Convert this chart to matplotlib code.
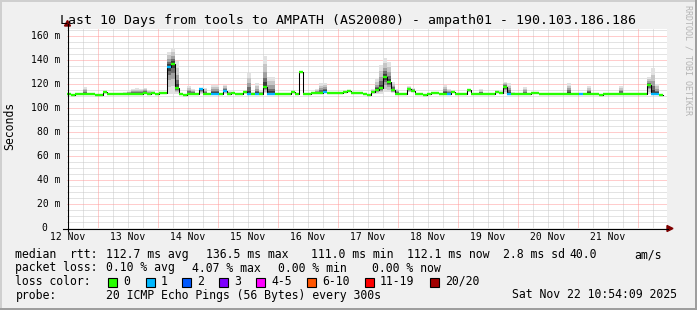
import numpy as np
import matplotlib
matplotlib.use('Agg')
import matplotlib.pyplot as plt
from matplotlib.patches import Rectangle, Polygon
from matplotlib.lines import Line2D
from matplotlib.transforms import blended_transform_factory, offset_copy

W, H = 697, 310
MONO = 'DejaVu Sans Mono'

# time axis: hours since 12 Nov 00:00, one consolidated row every 96 min
t_start = 11.6
t_step = 1.6
t_span = 240.0

# median rtt per row (ms)
median_ms = [
    112, 111, 112, 112, 112, 112, 111.5, 111, 111, 113.5,
    112, 112, 111.5, 112, 112, 112, 112, 112, 112, 112.5,
    112, 112.5, 112, 112.5, 112.5, 134.5, 137, 116.5, 112, 111,
    112, 112, 112, 115.5, 112, 112, 112, 112, 112, 114.5,
    112, 112.5, 112, 112, 113, 112, 112, 112, 112, 117.5,
    112, 112, 111.5, 112, 112, 112, 113, 112, 130, 112,
    112, 112.5, 112.5, 112.5, 113.5, 112.5, 112.5, 112.5, 112.5, 113,
    114, 112.5, 112.5, 112.5, 112, 111, 113, 115, 116.5, 125.5,
    121.5, 115, 112, 112, 112, 115.5, 114, 111.5, 111.5, 111,
    112, 112.5, 112.5, 112, 112, 112, 113.5, 112, 112, 112,
    115, 112, 112, 112, 112, 112, 112, 113.5, 112.5, 117.5,
    112, 112, 112, 112, 112, 112, 112.5, 112.5, 112, 112,
    111.5, 112, 112, 112, 112, 112, 112, 112, 112, 112,
    112, 112, 112, 111, 111.5, 112, 112, 112, 112, 112,
    112, 112, 112, 112, 112, 119, 112, 112, 111,
]

# lost pings per row (index into loss colours)
loss = [
    0, 0, 0, 0, 0, 0, 0, 0, 0, 0,
    0, 0, 0, 0, 0, 0, 0, 0, 0, 0,
    0, 0, 0, 0, 0, 1, 0, 0, 0, 0,
    0, 0, 0, 1, 0, 0, 1, 1, 0, 1,
    0, 0, 0, 0, 0, 1, 0, 1, 0, 0,
    1, 1, 0, 0, 0, 0, 0, 0, 0, 0,
    0, 0, 0, 0, 1, 0, 0, 0, 0, 0,
    0, 0, 0, 0, 0, 0, 0, 0, 0, 0,
    0, 0, 0, 0, 0, 0, 0, 0, 0, 0,
    0, 0, 0, 0, 0, 1, 0, 0, 0, 0,
    0, 0, 0, 0, 0, 0, 0, 0, 0, 0,
    1, 0, 0, 0, 0, 0, 0, 0, 0, 0,
    0, 0, 0, 0, 0, 0, 0, 0, 1, 0,
    0, 0, 0, 0, 0, 0, 0, 0, 0, 0,
    0, 0, 0, 0, 0, 0, 1, 1, 0,
]

# smoke: slowest and fastest ping per row (ms)
smoke_hi = [
    112, 111, 112, 112, 117.5, 112, 111.5, 111, 111, 113.5,
    112, 112, 111.5, 112, 113, 114, 116, 116.5, 116, 117,
    115, 114, 112, 113.5, 112.5, 147, 150, 139, 112, 111,
    118, 116, 112, 117, 117, 112, 119, 119, 112, 119.5,
    114, 112.5, 112, 112, 113, 129, 113, 120.5, 114, 143,
    126, 126, 111.5, 112, 112, 112, 113, 112, 130, 112,
    112, 112.5, 116, 120.5, 121, 112.5, 112.5, 112.5, 112.5, 113,
    114, 112.5, 112.5, 112.5, 112, 111, 116, 124, 136, 142,
    138, 122, 116, 112, 112, 118, 117, 111.5, 111.5, 111,
    112, 112.5, 112.5, 112, 119, 116, 113.5, 112, 112, 112,
    115.5, 112, 112, 115.5, 112, 112, 112, 113.5, 114, 122,
    121, 113, 112, 112, 117.5, 112, 112.5, 112.5, 112, 112,
    111.5, 112, 112, 112, 112, 121, 112, 112, 112, 112,
    118.5, 112, 112, 111, 111.5, 112, 112, 112, 118, 112,
    112, 112, 112, 112, 112, 126, 133, 120, 111,
]
smoke_lo = [
    111.5, 110.5, 111.5, 111.5, 111.5, 111.5, 111, 110.5, 110.5, 112,
    111.5, 111.5, 111, 111.5, 111.5, 111.5, 111.5, 111.5, 111.5, 112,
    111.5, 112, 111.5, 112, 112, 112, 112, 112, 111.5, 110.5,
    111.5, 111.5, 111.5, 112, 111.5, 111.5, 111.5, 111.5, 111.5, 112,
    111.5, 112, 111.5, 111.5, 112, 111.5, 111.5, 111.5, 111.5, 112.5,
    111.5, 111.5, 111, 111.5, 111.5, 111.5, 112, 111.5, 130, 111.5,
    111.5, 112, 112, 112, 112.5, 112, 112, 112, 112, 112.5,
    113, 112, 112, 112, 111.5, 110.5, 112, 112, 112, 113,
    113, 112.5, 111.5, 111.5, 111.5, 113, 113, 111, 111, 110.5,
    111.5, 112, 112, 111.5, 111.5, 111.5, 112.5, 111.5, 111.5, 111.5,
    113, 111.5, 111.5, 111.5, 111.5, 111.5, 111.5, 112.5, 112, 112,
    111.5, 111.5, 111.5, 111.5, 111.5, 111.5, 112, 112, 111.5, 111.5,
    111, 111.5, 111.5, 111.5, 111.5, 111.5, 111.5, 111.5, 111.5, 111.5,
    111.5, 111.5, 111.5, 110.5, 111, 111.5, 111.5, 111.5, 111.5, 111.5,
    111.5, 111.5, 111.5, 111.5, 111.5, 112, 111.5, 111.5, 110.5,
]

loss_labels = ['0', '1', '2', '3', '4-5', '6-10', '11-19', '20/20']
loss_colors = ['#26ff00', '#00b8ff', '#0059ff', '#7e00ff',
               '#ff00ff', '#ff5500', '#ff0000', '#a10000']

y_ticks = [0, 20, 40, 60, 80, 100, 120, 140, 160]
y_tick_labels = ['0  ', '20 m', '40 m', '60 m', '80 m', '100 m', '120 m', '140 m', '160 m']
day_labels = ['12 Nov', '13 Nov', '14 Nov', '15 Nov', '16 Nov',
              '17 Nov', '18 Nov', '19 Nov', '20 Nov', '21 Nov']

title = 'Last 10 Days from tools to AMPATH (AS20080) - ampath01 - 190.103.186.186'
legend_rows = [
    [(16, 'median  rtt:'), (107, '112.7 ms avg'), (207, '136.5 ms max'),
     (312, '111.0 ms min'), (408, '112.1 ms now'), (504, '2.8 ms sd'),
     (570, '40.0'), (635, 'am/s')],
    [(16, 'packet loss:'), (107, '0.10 % avg'), (193, '4.07 % max'),
     (279, '0.00 % min'), (373, '0.00 % now')],
    [(16, 'loss color:')],
    [(16, 'probe:'), (107, '20 ICMP Echo Pings (56 Bytes) every 300s'),
     (513, 'Sat Nov 22 10:54:09 2025')],
]
box_x = [108, 146, 182, 219, 256, 307, 365, 430]


def fx(x):
    return x / W


def fy(y):
    return 1 - y / H


fig = plt.figure(figsize=(W / 100, H / 100), dpi=100, facecolor='#f0f0f0')
ax = fig.add_axes([fx(67), fy(228), 600 / W, 199.2 / H])
ax.set_facecolor('white')
for s in ax.spines.values():
    s.set_visible(False)
ax.set_xlim(t_start, t_start + t_span)
ax.set_ylim(0, 166)
ax.set_xticks([])
ax.set_yticks([])

# grid: minor grey first, then red major
dots = (0, (1, 1))
for v in np.arange(5, 166, 5):
    if v % 20:
        ax.axhline(v, color='#c8c8c8', lw=0.72, ls=dots, zorder=0)
for h in np.arange(18, t_start + t_span, 6):
    if h % 24:
        ax.axvline(h, color='#c8c8c8', lw=0.72, ls=dots, zorder=0)
for v in y_ticks[1:]:
    ax.axhline(v, color='#ff9a9a', lw=0.72, ls=dots, zorder=0.5)
for h in np.arange(24, t_start + t_span, 24):
    ax.axvline(h, color='#ff9a9a', lw=0.72, ls=dots, zorder=0.5)

# smoke
n = len(median_ms)
t = t_start + t_step * np.arange(n)
te = np.append(t, t[-1] + t_step)
med = np.array(median_ms, dtype=float)
hi = np.array(smoke_hi, dtype=float)
lo = np.array(smoke_lo, dtype=float)
for f, c in [(1.0, '#e2e2e2'), (0.75, '#c6c6c6'), (0.5, '#a0a0a0'),
             (0.3, '#6c6c6c'), (0.15, '#3c3c3c')]:
    top = med + (hi - med) * f
    bot = med - (med - lo) * f
    ax.fill_between(te, np.append(bot, bot[-1]), np.append(top, top[-1]),
                    step='post', color=c, lw=0, zorder=1)

# median line
ax.step(te, np.append(med, med[-1]), where='post', color='black', lw=0.75, zorder=2)
ax.hlines(med, t, t + t_step, colors=[loss_colors[l] for l in loss],
          lw=1.7, zorder=3)

# axes lines and arrows
fig.add_artist(Line2D([fx(67.5), fx(67.5)], [fy(231), fy(24)], color='black', lw=0.8))
fig.add_artist(Line2D([fx(63), fx(668)], [fy(228.5), fy(228.5)], color='black', lw=0.8))
fig.add_artist(Polygon([[fx(64.5), fy(26)], [fx(70.5), fy(26)], [fx(67.5), fy(20.5)]],
                       closed=True, color='#7f0000', transform=fig.transFigure))
fig.add_artist(Polygon([[fx(667), fy(225.5)], [fx(667), fy(231.5)], [fx(673), fy(228.5)]],
                       closed=True, color='#7f0000', transform=fig.transFigure))

# y tick labels
ty = offset_copy(blended_transform_factory(fig.transFigure, ax.transData),
                 fig=fig, x=0, y=-3.4, units='dots')
for v, lab in zip(y_ticks, y_tick_labels):
    fig.text(fx(60), v, lab, transform=ty, ha='right', va='baseline',
             family=MONO, fontsize=7.0)

# x day labels at noon
tx = blended_transform_factory(ax.transData, fig.transFigure)
for k, lab in enumerate(day_labels):
    fig.text(12 + 24 * k, fy(240.5), lab, transform=tx, ha='center', va='baseline',
             family=MONO, fontsize=7.0)

fig.text(fx(348), fy(24), title, ha='center', va='baseline', family=MONO, fontsize=9.5)
fig.text(fx(10), fy(126), 'Seconds', rotation=90, ha='center', va='center',
         family=MONO, fontsize=8.3)
fig.text(fx(688), fy(60), 'RRDTOOL / TOBI OETIKER', rotation=270, ha='center',
         va='center', family=MONO, fontsize=6.0, color='#b4b4b4')

# legend
baselines = [258, 271.5, 285, 298.5]
for row, yb in zip(legend_rows, baselines):
    for x, s in row:
        fig.text(fx(x - 0.6), fy(yb), s, ha='left', va='baseline',
                 family=MONO, fontsize=8.3)
for x, c, lab in zip(box_x, loss_colors, loss_labels):
    fig.add_artist(Rectangle((fx(x), fy(286.5)), 9 / W, 9 / H, facecolor=c,
                             edgecolor='black', lw=0.8, transform=fig.transFigure))
    fig.text(fx(x + 15), fy(285), lab, ha='left', va='baseline',
             family=MONO, fontsize=8.3)

# frame shading
fig.add_artist(Rectangle((0, fy(2)), 1, 2 / H, color='#cfcfcf', lw=0, transform=fig.transFigure))
fig.add_artist(Rectangle((0, 0), 2 / W, 1, color='#cfcfcf', lw=0, transform=fig.transFigure))
fig.add_artist(Rectangle((fx(W - 2), 0), 2 / W, 1, color='#9e9e9e', lw=0, transform=fig.transFigure))
fig.add_artist(Rectangle((0, 0), 1, 2 / H, color='#9e9e9e', lw=0, transform=fig.transFigure))

fig.savefig('out.png', dpi=100, facecolor=fig.get_facecolor())
